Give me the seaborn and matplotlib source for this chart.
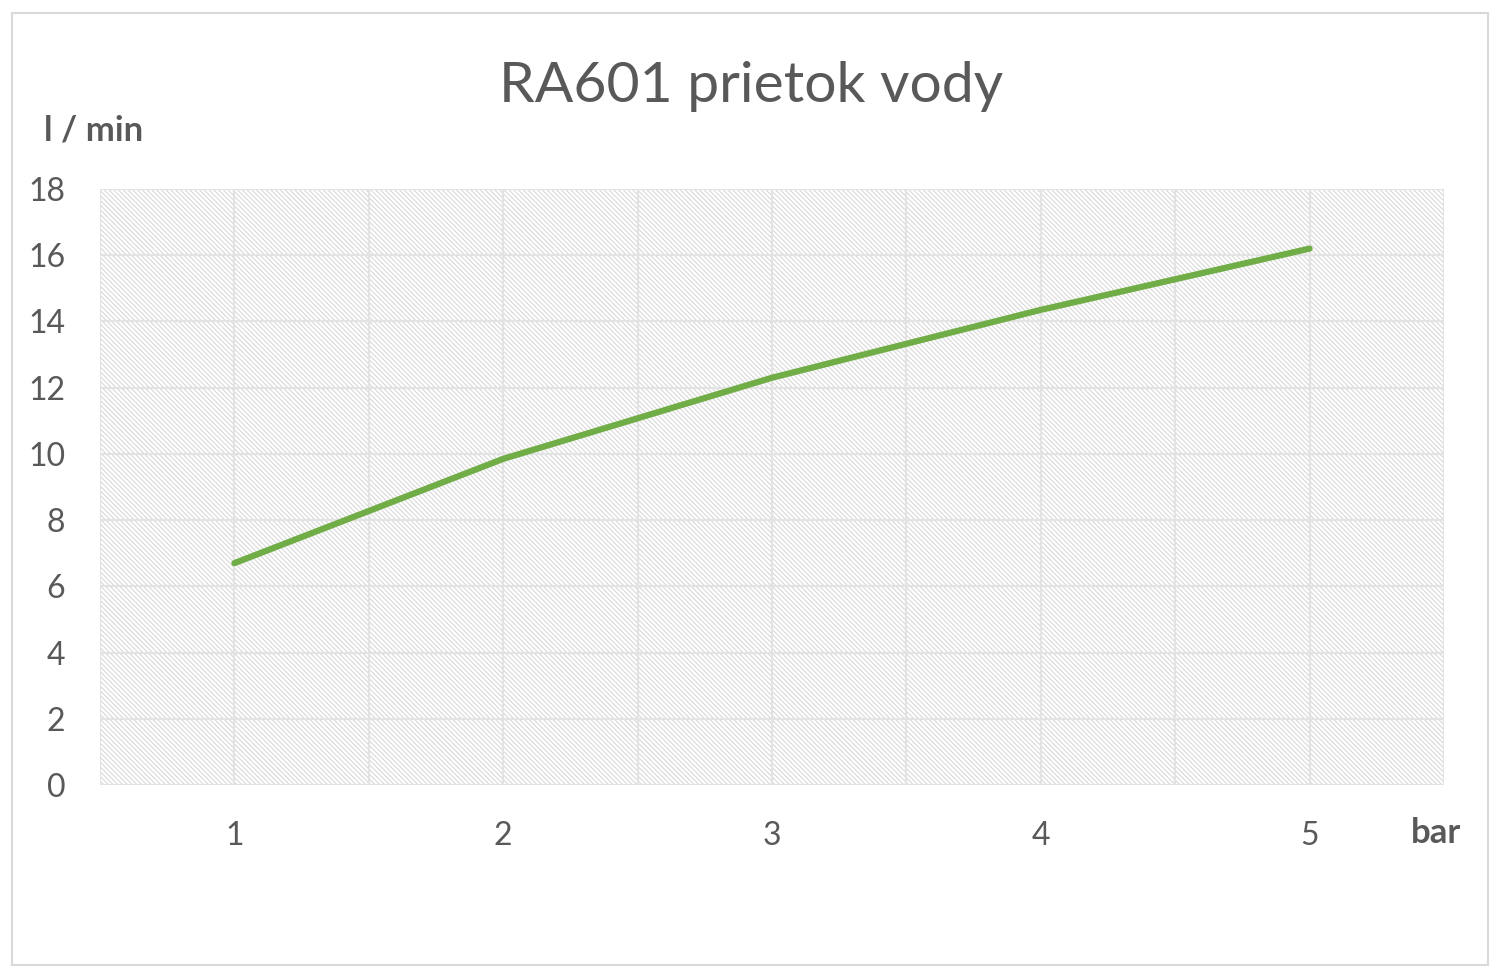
import matplotlib
matplotlib.use("Agg")
import matplotlib.pyplot as plt
import seaborn as sns
import pandas as pd
from matplotlib.patches import Rectangle

# data
pressure = [1, 2, 3, 4, 5]
flow = [6.7, 9.85, 12.3, 14.35, 16.2]

df = pd.DataFrame({"bar": pressure, "flow": flow})

sns.set_style("white")
plt.rcParams["font.family"] = ["Lato", "DejaVu Sans"]
plt.rcParams["hatch.linewidth"] = 0.7

fig = plt.figure(figsize=(15, 9.72), dpi=100)
ax = fig.add_axes([100 / 1500, 1 - 785 / 972, 1344 / 1500, 596 / 972])

# hatched plot area
ax.add_patch(Rectangle((0, 0), 1, 1, transform=ax.transAxes, facecolor="white",
                       edgecolor="#d4d4d4", linewidth=0, hatch="\\" * 7, zorder=0))

sns.lineplot(data=df, x="bar", y="flow", ax=ax, color="#70ad47", linewidth=4.5,
             solid_capstyle="round", solid_joinstyle="round", zorder=3)

ax.set_xlim(0.5, 5.5)
ax.set_ylim(0, 18)
ax.set_xticks([1, 2, 3, 4, 5])
ax.set_xticks([0.5, 1.5, 2.5, 3.5, 4.5, 5.5], minor=True)
ax.set_yticks(range(0, 19, 2))
ax.grid(True, which="both", color="#e3e3e3", linewidth=1.6, zorder=1)
ax.set_axisbelow(True)
for s in ax.spines.values():
    s.set_visible(False)
ax.tick_params(axis="both", which="both", length=0, labelsize=23, labelcolor="#595959")
ax.tick_params(axis="x", pad=26)
ax.tick_params(axis="y", pad=25)
ax.set_xlabel("")
ax.set_ylabel("")

fig.text(751 / 1500, 1 - 86 / 972, "RA601 prietok vody", fontsize=41, color="#595959",
         ha="center", va="center")
fig.text(44 / 1500, 1 - 130 / 972, "l / min", fontsize=25, color="#595959",
         fontweight="bold", ha="left", va="center")
fig.text(1411 / 1500, 1 - 833 / 972, "bar", fontsize=25, color="#595959",
         fontweight="bold", ha="left", va="center")

fig.add_artist(Rectangle((12 / 1500, 1 - 965 / 972), 1476 / 1500, 952 / 972,
                         transform=fig.transFigure, fill=False,
                         edgecolor="#d9d9d9", linewidth=1.5))

fig.savefig("out.png", dpi=100)
